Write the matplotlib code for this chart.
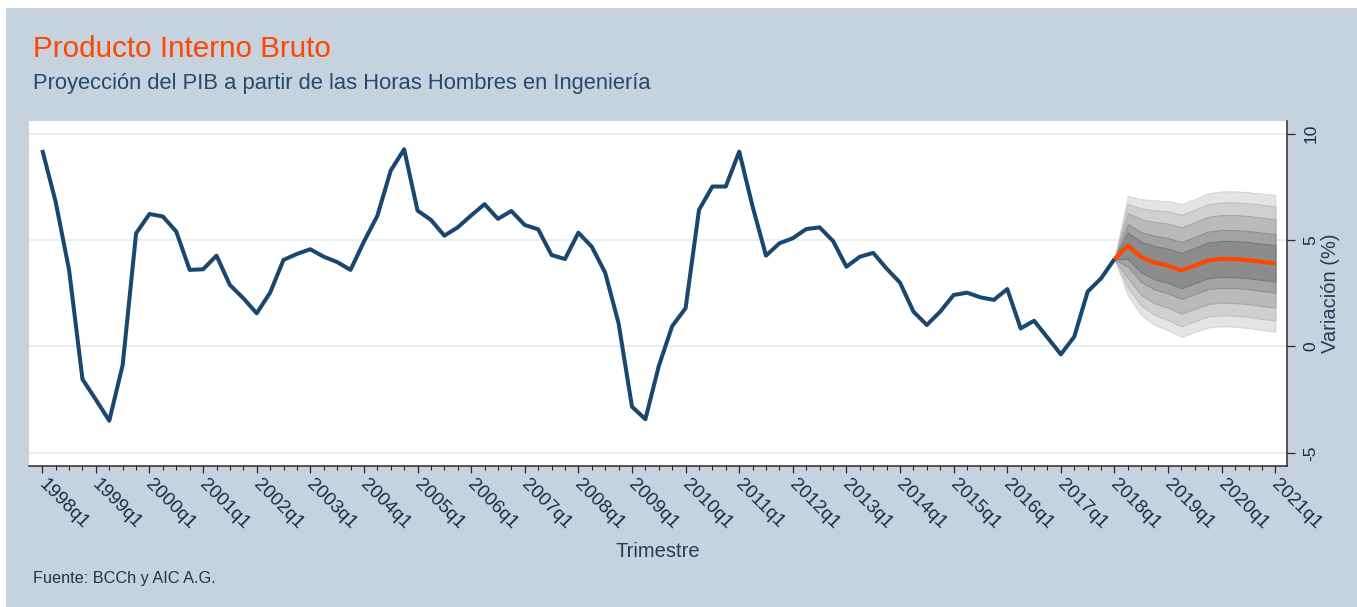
import matplotlib
matplotlib.use("Agg")
import matplotlib.pyplot as plt
from matplotlib.patches import Rectangle
from matplotlib.ticker import FixedLocator
from matplotlib.transforms import ScaledTranslation

plt.rcParams['font.family'] = ['Liberation Sans', 'DejaVu Sans']

W, H = 1357, 607

# Quarterly index: 0 = 1998q1, 80 = 2018q1, 92 = 2021q1
hist_quarters = list(range(0, 81))
pib_hist = [9.24, 6.8, 3.6, -1.54, -2.5, -3.49, -0.87, 5.32, 6.23, 6.11,
            5.4, 3.6, 3.63, 4.27, 2.89, 2.27, 1.56, 2.53, 4.07, 4.35,
            4.57, 4.22, 3.97, 3.6, 4.93, 6.14, 8.27, 9.27, 6.39, 5.95,
            5.21, 5.6, 6.16, 6.69, 6.0, 6.37, 5.71, 5.51, 4.3, 4.11,
            5.35, 4.69, 3.47, 1.09, -2.83, -3.42, -0.92, 0.96, 1.8, 6.42,
            7.52, 7.52, 9.16, 6.58, 4.27, 4.85, 5.09, 5.52, 5.6, 4.96,
            3.75, 4.22, 4.4, 3.66, 3.0, 1.64, 1.01, 1.64, 2.42, 2.53,
            2.31, 2.19, 2.7, 0.85, 1.21, 0.42, -0.37, 0.46, 2.58, 3.2,
            4.11]

fc_quarters = list(range(80, 93))
pib_fc = [4.11, 4.74, 4.2, 3.94, 3.8, 3.57, 3.81, 4.05, 4.12, 4.11, 4.06, 3.98, 3.91]

# Half-widths of the projection bands around the central path (outer to inner)
band_975 = [0.0, 2.34, 2.72, 2.93, 3.03, 3.12, 3.12, 3.15, 3.17, 3.18, 3.19, 3.2, 3.21]
band_95 = [0.0, 1.96, 2.28, 2.46, 2.55, 2.62, 2.62, 2.64, 2.65, 2.66, 2.67, 2.68, 2.68]
band_90 = [0.0, 1.53, 1.78, 1.91, 1.98, 2.03, 2.03, 2.05, 2.06, 2.07, 2.07, 2.08, 2.08]
band_80 = [0.0, 1.0, 1.17, 1.26, 1.3, 1.34, 1.34, 1.35, 1.36, 1.36, 1.37, 1.37, 1.38]
band_70 = [0.0, 0.62, 0.72, 0.78, 0.8, 0.83, 0.83, 0.84, 0.84, 0.85, 0.85, 0.85, 0.86]
bands = [band_975, band_95, band_90, band_80, band_70]
band_colors = ['#e4e4e4', '#d0d0d0', '#bababa', '#a3a3a3', '#8c8c8c']
band_edges = ['#d6d6d6', '#c0c0c0', '#a8a8a8', '#909090', '#7a7a7a']

year_ticks = list(range(0, 93, 4))
year_labels = ['1998q1', '1999q1', '2000q1', '2001q1', '2002q1', '2003q1',
               '2004q1', '2005q1', '2006q1', '2007q1', '2008q1', '2009q1',
               '2010q1', '2011q1', '2012q1', '2013q1', '2014q1', '2015q1',
               '2016q1', '2017q1', '2018q1', '2019q1', '2020q1', '2021q1']
y_ticks = [-5, 0, 5, 10]

NAVY = '#1a476f'
ORANGE = '#ff4500'
BG = '#c6d3df'
TXT = '#1c2a46'

fig = plt.figure(figsize=(W / 100, H / 100), dpi=100)
fig.patch.set_facecolor('white')
fig.add_artist(Rectangle((6 / W, 0), 1, (H - 8) / H, transform=fig.transFigure,
                         facecolor=BG, edgecolor='none', zorder=-10))

left, right, top, bottom = 29, 1286.7, 121, 465.5
ax = fig.add_axes([left / W, (H - bottom) / H, (right - left) / W, (bottom - top) / H])
ax.set_facecolor('white')

ax.set_xlim(-0.99, 92.85)
ax.set_ylim(-5.595, 10.6)

ax.yaxis.grid(True, color='#e6eeee', lw=1.3)
ax.set_axisbelow(True)

for hw, fc, ec in zip(bands, band_colors, band_edges):
    lower = [m - w for m, w in zip(pib_fc, hw)]
    upper = [m + w for m, w in zip(pib_fc, hw)]
    ax.fill_between(fc_quarters, lower, upper, facecolor=fc, edgecolor=ec,
                    linewidth=0.8, zorder=2)

ax.plot(hist_quarters, pib_hist, color=NAVY, lw=2.9, zorder=4,
        solid_joinstyle='round', solid_capstyle='butt')
ax.plot(fc_quarters, pib_fc, color=ORANGE, lw=3.0, zorder=5,
        solid_joinstyle='round', solid_capstyle='butt')

for side in ('top', 'left'):
    ax.spines[side].set_visible(False)
for side in ('bottom', 'right'):
    ax.spines[side].set_color('#2a2a2a')
    ax.spines[side].set_linewidth(1.1)

# x axis: yearly major ticks, quarterly minor ticks
ax.xaxis.set_major_locator(FixedLocator(year_ticks))
ax.xaxis.set_minor_locator(FixedLocator(list(range(0, 93))))
ax.set_xticklabels(year_labels)
ax.tick_params(axis='x', which='major', length=5.2, width=0.9, color='#1c2a44',
               labelsize=13.5, labelcolor=TXT, pad=2.5)
ax.tick_params(axis='x', which='minor', length=3, width=0.8, color='#222222')
shift = ScaledTranslation(5 / 100, 0, fig.dpi_scale_trans)
for lab in ax.get_xticklabels():
    lab.set_rotation(-45)
    lab.set_rotation_mode('anchor')
    lab.set_ha('left')
    lab.set_va('top')
    lab.set_transform(lab.get_transform() + shift)

# y axis on the right
ax.yaxis.tick_right()
ax.set_yticks(y_ticks)
ax.set_yticklabels([str(v) for v in y_ticks])
ax.tick_params(axis='y', which='major', length=6, width=0.9, color='#2a2a2a',
               labelsize=12.5, labelcolor=TXT, pad=6, left=False, right=True)
for lab in ax.get_yticklabels():
    lab.set_rotation(90)
    lab.set_va('center')

ax.set_xlabel('Trimestre', fontsize=14.5, color='#2b3b55')
ax.xaxis.set_label_coords(0.5, -0.251)
ax.xaxis.label.set_va('center')

ax.yaxis.set_label_position('right')
ax.set_ylabel('Variación (%)', fontsize=14.5, color='#2b3b55', rotation=90)
ax.yaxis.set_label_coords((1331 - left) / (right - left), 0.5)
ax.yaxis.label.set_va('center')
ax.yaxis.label.set_ha('center')

fig.text(33 / W, 1 - 57 / H, 'Producto Interno Bruto', color=ORANGE,
         fontsize=21.3, ha='left', va='baseline')
fig.text(33 / W, 1 - 89 / H,
         'Proyección del PIB a partir de las Horas Hombres en Ingeniería',
         color='#27476b', fontsize=15.8, ha='left', va='baseline')
fig.text(33 / W, 1 - 583 / H, 'Fuente: BCCh y AIC A.G.', color='#243447',
         fontsize=11.7, ha='left', va='baseline')

fig.savefig('out.png', dpi=100, facecolor=fig.get_facecolor())
